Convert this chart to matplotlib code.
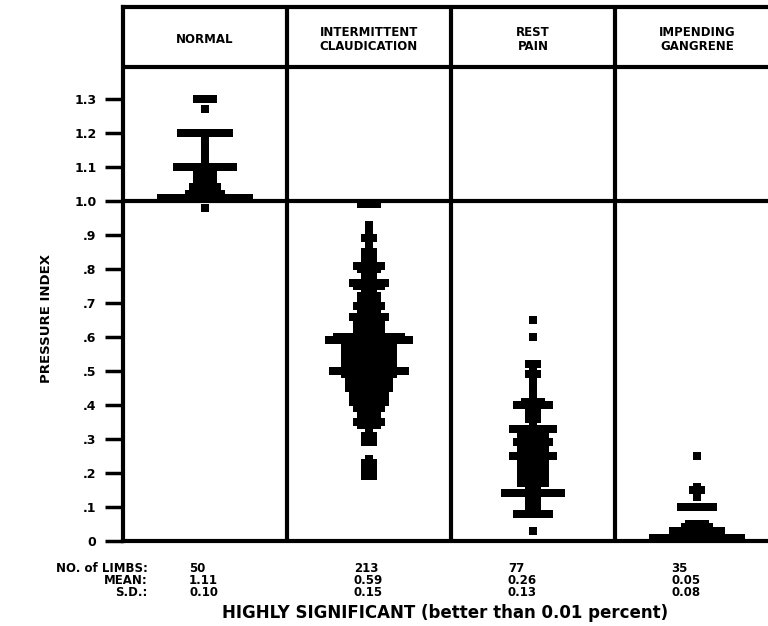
import numpy as np
import matplotlib
matplotlib.use('Agg')
import matplotlib.pyplot as plt

# Pressure index (ankle/arm) by clinical group -- dot columns

categories = ['NORMAL', 'INTERMITTENT\nCLAUDICATION', 'REST\nPAIN', 'IMPENDING\nGANGRENE']

# each value is a pressure index, each count the number of limbs stacked side by side there
normal_values = [1.30, 1.27, 1.20, 1.18, 1.16, 1.14, 1.12, 1.10, 1.08, 1.06, 1.04, 1.02, 1.01, 0.98]
normal_counts = [3, 1, 7, 1, 1, 1, 1, 8, 3, 3, 4, 5, 12, 1]

claud_values = [0.99, 0.93, 0.91, 0.89, 0.87, 0.85, 0.83, 0.81, 0.80, 0.78,
                0.76, 0.75, 0.73, 0.72, 0.70, 0.69, 0.67, 0.66, 0.65, 0.64,
                0.63, 0.62, 0.60, 0.59, 0.58, 0.57, 0.56, 0.55, 0.54, 0.53,
                0.52, 0.51, 0.50, 0.49, 0.48, 0.47, 0.46, 0.45, 0.44, 0.43,
                0.42, 0.41, 0.40, 0.39, 0.38, 0.37, 0.36, 0.35, 0.34, 0.33,
                0.31, 0.30, 0.29, 0.24, 0.23, 0.22, 0.21, 0.20, 0.19]
claud_counts = [3, 1, 1, 2, 1, 2, 2, 4, 3, 2,
                5, 4, 2, 3, 3, 4, 3, 5, 3, 4,
                2, 4, 9, 11, 3, 7, 4, 7, 4, 7,
                4, 7, 10, 7, 4, 6, 4, 6, 4, 5,
                3, 5, 4, 4, 3, 3, 2, 4, 3, 1,
                2, 1, 2, 1, 2, 1, 2, 1, 2]

rest_values = [0.65, 0.60, 0.52, 0.50, 0.49, 0.47, 0.45, 0.43, 0.41, 0.40,
               0.38, 0.36, 0.35, 0.33, 0.31, 0.29, 0.27, 0.25, 0.23, 0.21,
               0.19, 0.17, 0.16, 0.14, 0.12, 0.10, 0.08, 0.03]
rest_counts = [1, 1, 2, 1, 2, 1, 1, 1, 3, 5,
               2, 2, 1, 6, 4, 5, 4, 6, 4, 4,
               4, 4, 2, 8, 2, 2, 5, 1]

gang_values = [0.25, 0.16, 0.15, 0.13, 0.10, 0.05, 0.04, 0.03, 0.01]
gang_counts = [1, 1, 2, 1, 5, 3, 4, 7, 12]

n_limbs = ['50', '213', '77', '35']
mean_vals = ['1.11', '0.59', '0.26', '0.05']
sd_vals = ['0.10', '0.15', '0.13', '0.08']

y_ticks = [0, 0.1, 0.2, 0.3, 0.4, 0.5, 0.6, 0.7, 0.8, 0.9, 1.0, 1.1, 1.2, 1.3]
y_tick_labels = ['0', '.1', '.2', '.3', '.4', '.5', '.6', '.7', '.8', '.9', '1.0', '1.1', '1.2', '1.3']

groups = [(normal_values, normal_counts), (claud_values, claud_counts),
          (rest_values, rest_counts), (gang_values, gang_counts)]

W, H = 768, 626
BOLD = 'DejaVu Sans'


def swarm(center, values, counts, dx):
    """Spread the limbs sharing a value sideways around the column centre"""
    xs, ys = [], []
    for v, n in zip(values, counts):
        offs = (np.arange(n) - (n - 1) / 2.0) * dx
        xs.extend(center + offs)
        ys.extend([v] * n)
    return xs, ys


fig = plt.figure(figsize=(W / 100, H / 100), dpi=100)
# 4 panels of ~164 px each, the last one runs off the right edge like the scan
ax = fig.add_axes([123 / W, (H - 541) / H, 656 / W, 534 / H])
ax.set_xlim(0, 4)
ax.set_ylim(0, 534 / 340)

dx = 8 / 164
for i, (vals, cnts) in enumerate(groups):
    xs, ys = swarm(i + 0.5, vals, cnts, dx)
    ax.plot(xs, ys, 's', ms=6.4, color='black', mew=0, zorder=2)

# grid of the figure: panel dividers, 1.0 line, header line
for i in range(1, 4):
    ax.axvline(i, color='black', lw=3, zorder=3)
ax.axhline(1.0, color='black', lw=3, zorder=3)
ax.axhline(1.394, color='black', lw=3, zorder=3)

for side in ['left', 'top', 'bottom', 'right']:
    ax.spines[side].set_linewidth(3)

ax.set_xticks([])
ax.set_yticks(y_ticks)
ax.set_yticklabels(y_tick_labels, fontfamily=BOLD, fontweight='bold', fontsize=9)
ax.tick_params(axis='y', length=13, width=2.5, pad=6)

for i, name in enumerate(categories):
    ax.text(i + 0.5, 1.475, name, ha='center', va='center', fontsize=8.5,
            fontfamily=BOLD, fontweight='bold', linespacing=1.05)

fig.text(47 / W, 1 - 318 / H, 'PRESSURE INDEX', rotation=90, ha='center', va='center',
         fontsize=9.5, fontfamily=BOLD, fontweight='bold')

# summary table under the columns
row_y = [568, 580, 592]
row_names = ['NO. of LIMBS:', 'MEAN:', 'S.D.:']
col_x = [189, 354, 508, 671]
for ry, rname, rvals in zip(row_y, row_names, [n_limbs, mean_vals, sd_vals]):
    fig.text(148 / W, 1 - ry / H, rname, ha='right', va='center', fontsize=8.5,
             fontfamily=BOLD, fontweight='bold')
    for cx, v in zip(col_x, rvals):
        fig.text(cx / W, 1 - ry / H, v, ha='left', va='center', fontsize=8.5,
                 fontfamily=BOLD, fontweight='bold')

fig.text(445 / W, 1 - 613 / H, 'HIGHLY SIGNIFICANT (better than 0.01 percent)',
         ha='center', va='center', fontsize=12, fontfamily=BOLD, fontweight='bold')

fig.savefig('out.png', dpi=100)
